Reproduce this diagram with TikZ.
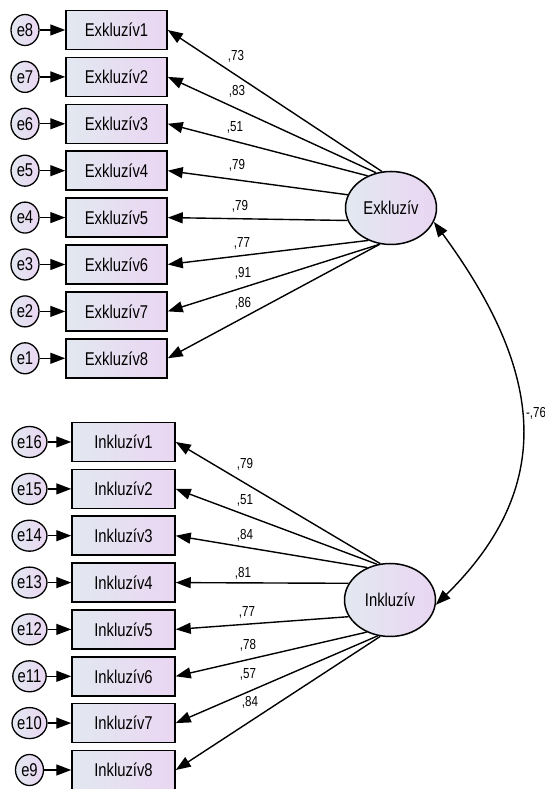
\documentclass[tikz,border=0pt]{standalone}
\usepackage{fontspec}
\setmainfont{Liberation Sans}[FakeStretch=0.8]
\usepackage{xcolor}
\usepackage{tikz}
\usetikzlibrary{arrows.meta,shapes.geometric}
\definecolor{boxleft}{RGB}{226,232,240}
\definecolor{boxright}{RGB}{234,214,242}

\begin{document}
\begin{tikzpicture}[x=1pt,y=1pt,>={Triangle[length=15pt,width=11pt]},line width=1.4pt,
  item/.style={draw,line width=1.5pt,left color=boxleft,right color=boxright,minimum height=39pt,inner sep=0pt,font=\fontsize{18.5}{20}\selectfont},
  err/.style={draw,ellipse,line width=1.3pt,left color=boxleft,right color=boxright,minimum width=28pt,minimum height=31pt,inner sep=0pt,font=\fontsize{18.5}{20}\selectfont},
  latent/.style={draw,ellipse,line width=1.5pt,left color=boxleft,right color=boxright,minimum width=91pt,minimum height=73pt,inner sep=0pt,font=\fontsize{18.5}{20}\selectfont},
  load/.style={inner sep=0pt,font=\fontsize{14.5}{16}\selectfont}]
\useasboundingbox (0,0) rectangle (545,789);

% latent factors
\node[latent] (Exk) at (391,581) {Exkluzív};
\node[latent] (Ink) at (390,189) {Inkluzív};

% exclusive items
\foreach \i/\e/\y/\a/\v/\lx/\ly in {1/8/759/104/73/236/733, 2/7/712.1/113/83/237/698,
    3/6/665.2/126/51/235/662, 4/5/618.3/163/79/237/624, 5/4/571.4/196/79/240/583,
    6/3/524.5/235/77/242/546, 7/2/477.6/253/91/243/516, 8/1/430.7/253/86/243/486}{
  \node[item,minimum width=101pt] (exk\i) at (116.5,\y) {Exkluzív\i};
  \node[err] (e\e) at (25,\y) {e\e};
  \draw[->] (e\e) -- (exk\i);
  \draw[->] (Exk.\a) -- (exk\i.east);
  \node[load] at (\lx,\ly) {,\v};
}

% inclusive items
\foreach \i/\e/\y/\a/\v/\lx/\ly in {1/16/347/105/79/245/325, 2/15/300.1/110/51/245/289,
    3/14/253.3/125/84/245/254, 4/13/206.4/158/81/243/216, 5/12/159.6/202/77/247/177,
    6/11/112.7/234/78/248/144, 7/10/65.9/251/57/248/115, 8/9/19/255/84/250/87}{
  \node[item,minimum width=103pt] (ink\i) at (123.5,\y) {Inkluzív\i};
  \node[err] (e\e) at (29.5,\y) {e\e};
  \draw[->] (e\e) -- (ink\i);
  \draw[->] (Ink.\a) -- (ink\i.east);
  \node[load] at (\lx,\ly) {,\v};
}

% covariance
\draw[<->] (Exk.-18) .. controls (538,425) and (562,308) .. (Ink.-6);
\node[load] (cov) at (536,376) {-,76};
\end{tikzpicture}
\end{document}
